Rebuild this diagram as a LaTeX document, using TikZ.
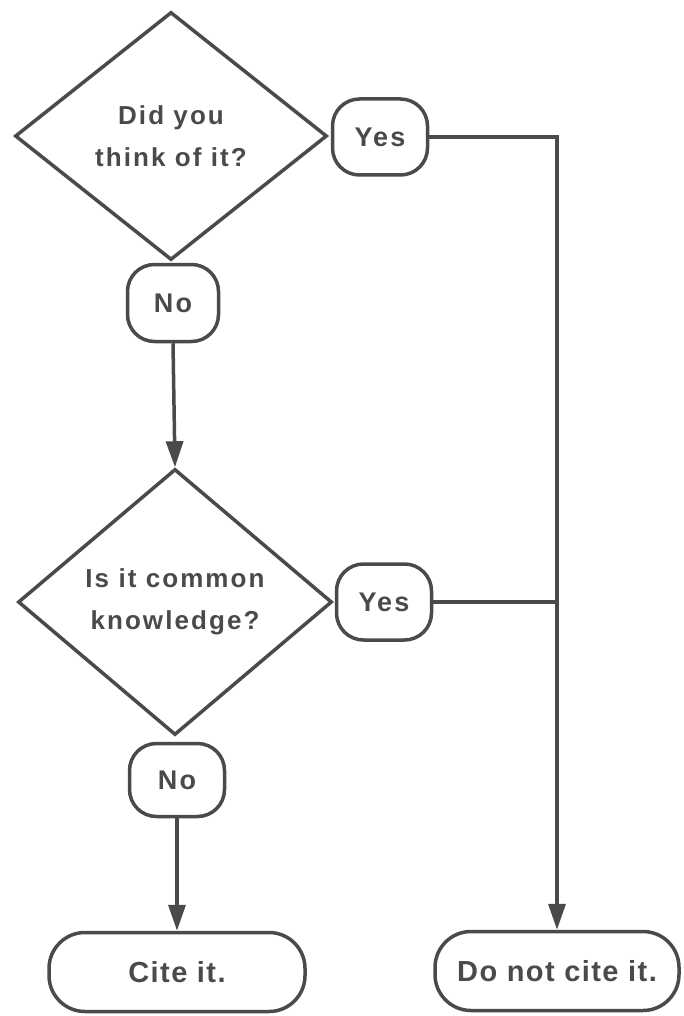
\documentclass[tikz,border=0pt]{standalone}
\usepackage{fontspec}
\setmainfont{Liberation Sans}
\newfontfamily\askfont[LetterSpace=8]{Liberation Sans}
\newfontfamily\endfont[LetterSpace=5]{Liberation Sans}
\usetikzlibrary{shapes.geometric,arrows.meta}
\definecolor{ink}{HTML}{4A4A4A}

\begin{document}
\begin{tikzpicture}[
	x=1pt, y=-1pt,
	color=ink,
	line width=3.5pt,
	question/.style={diamond, draw, inner sep=0pt, align=center,
		font=\askfont\bfseries\fontsize{26}{42}\selectfont},
	answer/.style={rectangle, draw, rounded corners=27pt,
		minimum width=95pt, minimum height=76pt,
		font=\askfont\bfseries\fontsize{27}{30}\selectfont},
	outcome/.style={rectangle, draw, rounded corners=36pt,
		minimum height=79pt,
		font=\endfont\bfseries\fontsize{29}{34}\selectfont},
	flow/.style={-{Triangle[length=26pt,width=17pt]}}
	]
	
	\useasboundingbox (0,0) rectangle (683,1016);
	
	% Pierwsze pytanie
	\node[question, minimum width=312pt, minimum height=248pt]
	(think) at (171,136) {Did you\\think of it?};
	\node[answer] (yes1) at (380,137) {Yes};
	\node[answer, minimum width=91pt, minimum height=77pt]
	(no1) at (173,303) {No};
	
	% Drugie pytanie
	\node[question, minimum width=314pt, minimum height=266pt]
	(common) at (175,602) {Is it common\\knowledge?};
	\node[answer] (yes2) at (384,602) {Yes};
	\node[answer, minimum height=73pt] (no2) at (177,780) {No};
	
	% Wyniki
	\node[outcome, minimum width=256pt] (cite) at (177,972) {Cite it.};
	\node[outcome, minimum width=244pt] (nocite) at (557,971) {Do not cite it.};
	
	% Strzalki
	\coordinate (merge) at (yes2.east -| nocite.north);
	\draw[flow] (yes1.east) -| (nocite.north);
	\draw (yes2.east) -- (merge);
	\draw[flow] (no1.south) -- (common.north);
	\draw[flow] (no2.south) -- (cite.north);
	
\end{tikzpicture}
\end{document}
